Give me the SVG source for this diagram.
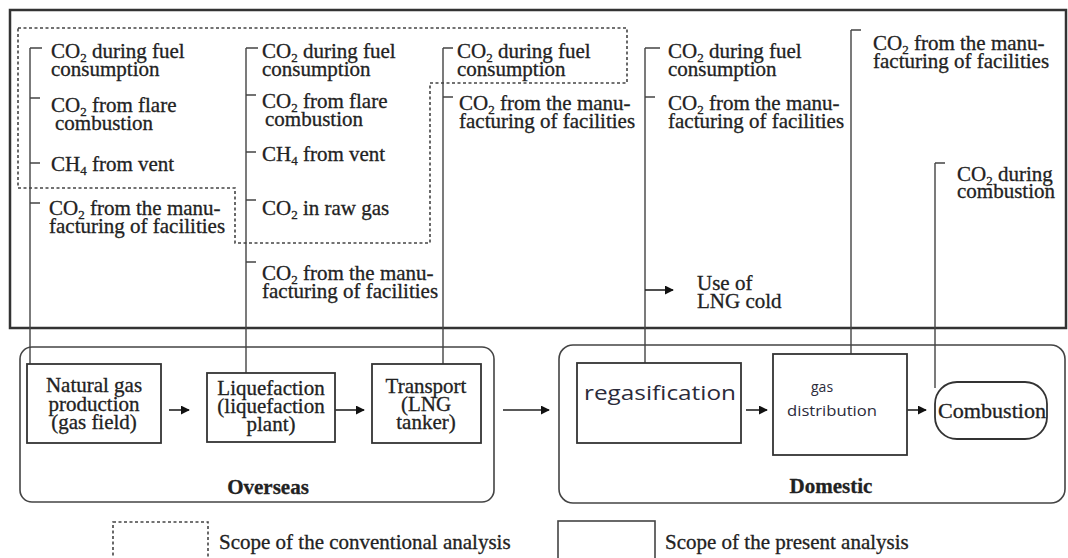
<svg xmlns="http://www.w3.org/2000/svg" width="1068" height="558" viewBox="0 0 1068 558">
<style>
  .t { font-family: "Liberation Serif", "Times New Roman", serif; font-size: 21px; fill: #222; stroke: #222; stroke-width: 0.3; }
  .b { font-weight: bold; text-anchor: middle; }
  .c { text-anchor: middle; }
  .sub { font-size: 13px; }
  .s { font-family: "Open Sans", "Noto Sans", sans-serif; fill: #2b2b3a; }
  .ln { fill: none; stroke: #444; stroke-width: 1.4; }
  .box { fill: #fff; stroke: #333; stroke-width: 1.8; }
  .rbox { fill: none; stroke: #444; stroke-width: 1.6; }
  .dash { fill: none; stroke: #444; stroke-width: 1.6; stroke-dasharray: 3 2.5; }
  .arr { fill: none; stroke: #222; stroke-width: 1.6; marker-end: url(#ah); }
</style>
<defs>
  <marker id="ah" viewBox="0 0 10 10" refX="9" refY="5" markerWidth="9" markerHeight="9" markerUnits="userSpaceOnUse" orient="auto">
    <path d="M0,0 L10,5 L0,10 Z" fill="#111"/>
  </marker>
</defs>
<rect width="1068" height="558" fill="#fff"/>

<!-- outer present-analysis scope box (top) -->
<rect id="present-scope-top" x="10" y="10" width="1056" height="318" fill="none" stroke="#333" stroke-width="2.5"/>

<!-- conventional scope dashed outline -->
<path id="conventional-scope" class="dash" d="M18,28 H627 V83 H430 V243 H235 V188 H18 Z"/>

<!-- regions -->
<g id="overseas">
  <rect class="rbox" x="20" y="347" width="474" height="155" rx="12"/>
  <text class="t b" x="268" y="494">Overseas</text>
</g>
<g id="domestic">
  <rect class="rbox" x="559" y="345" width="506" height="158" rx="14"/>
  <text class="t b" x="831" y="493">Domestic</text>
</g>

<!-- connectors -->
<g id="connectors">
  <path class="ln" d="M30,48 V365 M30,48 H42 M30,98 H40 M30,163 H40 M30,203 H40"/>
  <path class="ln" d="M246,48 V373 M246,48 H258 M246,95 H256 M246,152 H256 M246,200 H256 M246,262 H256"/>
  <path class="ln" d="M443,48 V364 M443,48 H453 M443,97 H453"/>
  <path class="ln" d="M645,48 V363 M645,48 H660 M645,97 H655"/>
  <path class="ln" d="M851,30 V354 M851,30 H861"/>
  <path class="ln" d="M935,163 V388 M935,163 H945"/>
  <line class="arr" x1="645" y1="290" x2="673" y2="290"/>
  <line class="arr" x1="169" y1="410" x2="189" y2="410"/>
  <line class="arr" x1="335" y1="410" x2="364" y2="410"/>
  <line class="arr" x1="503" y1="410" x2="549" y2="410"/>
  <line class="arr" x1="746" y1="410" x2="767" y2="410"/>
  <line class="arr" x1="907" y1="410" x2="926" y2="410"/>
</g>

<!-- emission labels column 1 -->
<g id="labels-production">
  <text class="t" x="51" y="58">CO<tspan class="sub" dy="4">2</tspan><tspan dy="-4"> during fuel</tspan><tspan x="51" dy="18">consumption</tspan></text>
  <text class="t" x="51" y="112">CO<tspan class="sub" dy="4">2</tspan><tspan dy="-4"> from flare</tspan><tspan x="55" dy="18">combustion</tspan></text>
  <text class="t" x="51" y="171">CH<tspan class="sub" dy="4">4</tspan><tspan dy="-4">  from vent</tspan></text>
  <text class="t" x="49" y="215">CO<tspan class="sub" dy="4">2</tspan><tspan dy="-4"> from the manu-</tspan><tspan x="49" dy="18">facturing of facilities</tspan></text>
</g>

<!-- column 2 -->
<g id="labels-liquefaction">
  <text class="t" x="262" y="58">CO<tspan class="sub" dy="4">2</tspan><tspan dy="-4"> during fuel</tspan><tspan x="262" dy="18">consumption</tspan></text>
  <text class="t" x="262" y="108">CO<tspan class="sub" dy="4">2</tspan><tspan dy="-4"> from flare</tspan><tspan x="265" dy="18">combustion</tspan></text>
  <text class="t" x="262" y="161">CH<tspan class="sub" dy="4">4</tspan><tspan dy="-4"> from vent</tspan></text>
  <text class="t" x="262" y="215">CO<tspan class="sub" dy="4">2</tspan><tspan dy="-4"> in raw gas</tspan></text>
  <text class="t" x="262" y="280">CO<tspan class="sub" dy="4">2</tspan><tspan dy="-4"> from the manu-</tspan><tspan x="262" dy="18">facturing of facilities</tspan></text>
</g>

<!-- column 3 -->
<g id="labels-transport">
  <text class="t" x="457" y="58">CO<tspan class="sub" dy="4">2</tspan><tspan dy="-4"> during fuel</tspan><tspan x="457" dy="18">consumption</tspan></text>
  <text class="t" x="459" y="110">CO<tspan class="sub" dy="4">2</tspan><tspan dy="-4"> from the manu-</tspan><tspan x="459" dy="18">facturing of facilities</tspan></text>
</g>

<!-- column 4 -->
<g id="labels-regasification">
  <text class="t" x="668" y="58">CO<tspan class="sub" dy="4">2</tspan><tspan dy="-4"> during fuel</tspan><tspan x="668" dy="18">consumption</tspan></text>
  <text class="t" x="668" y="110">CO<tspan class="sub" dy="4">2</tspan><tspan dy="-4"> from the manu-</tspan><tspan x="668" dy="18">facturing of facilities</tspan></text>
  <text class="t" x="697" y="290">Use of<tspan x="697" dy="18">LNG cold</tspan></text>
</g>

<!-- column 5 -->
<g id="labels-distribution">
  <text class="t" x="873" y="50">CO<tspan class="sub" dy="4">2</tspan><tspan dy="-4"> from the manu-</tspan><tspan x="873" dy="18">facturing of facilities</tspan></text>
</g>

<!-- column 6 -->
<g id="labels-combustion">
  <text class="t" x="957" y="181">CO<tspan class="sub" dy="4">2</tspan><tspan dy="-4"> during</tspan><tspan x="957" dy="17">combustion</tspan></text>
</g>

<!-- process nodes -->
<g id="node-production">
  <rect class="box" x="27" y="364" width="134" height="79"/>
  <text class="t c" x="94" y="392">Natural gas<tspan x="94" dy="19">production</tspan><tspan x="94" dy="18">(gas field)</tspan></text>
</g>
<g id="node-liquefaction">
  <rect class="box" x="207" y="373" width="128" height="69"/>
  <text class="t c" x="271" y="395">Liquefaction<tspan x="271" dy="18">(liquefaction</tspan><tspan x="271" dy="18">plant)</tspan></text>
</g>
<g id="node-transport">
  <rect class="box" x="372" y="364" width="109" height="79"/>
  <text class="t c" x="426" y="393">Transport<tspan x="426" dy="18">(LNG</tspan><tspan x="426" dy="18">tanker)</tspan></text>
</g>
<g id="node-regasification">
  <rect class="box" x="577" y="363" width="164" height="80"/>
  <text class="s" x="584" y="400" font-size="20" textLength="152" lengthAdjust="spacingAndGlyphs">regasification</text>
</g>
<g id="node-distribution">
  <rect class="box" x="773" y="354" width="134" height="101"/>
  <text class="s" x="811" y="392" font-size="14">gas</text>
  <text class="s" x="787" y="416" font-size="14" textLength="90" lengthAdjust="spacingAndGlyphs">distribution</text>
</g>
<g id="node-combustion">
  <rect class="box" x="935" y="382" width="112" height="57" rx="22"/>
  <text class="t" x="938" y="418" textLength="108" lengthAdjust="spacingAndGlyphs">Combustion</text>
</g>

<!-- legend -->
<g id="legend-conventional">
  <rect class="dash" x="113" y="522" width="95" height="40"/>
  <text class="t" x="219" y="549">Scope of the conventional analysis</text>
</g>
<g id="legend-present">
  <rect x="558" y="521" width="97" height="40" fill="none" stroke="#444" stroke-width="1.6"/>
  <text class="t" x="665" y="549">Scope of the present analysis</text>
</g>
</svg>
